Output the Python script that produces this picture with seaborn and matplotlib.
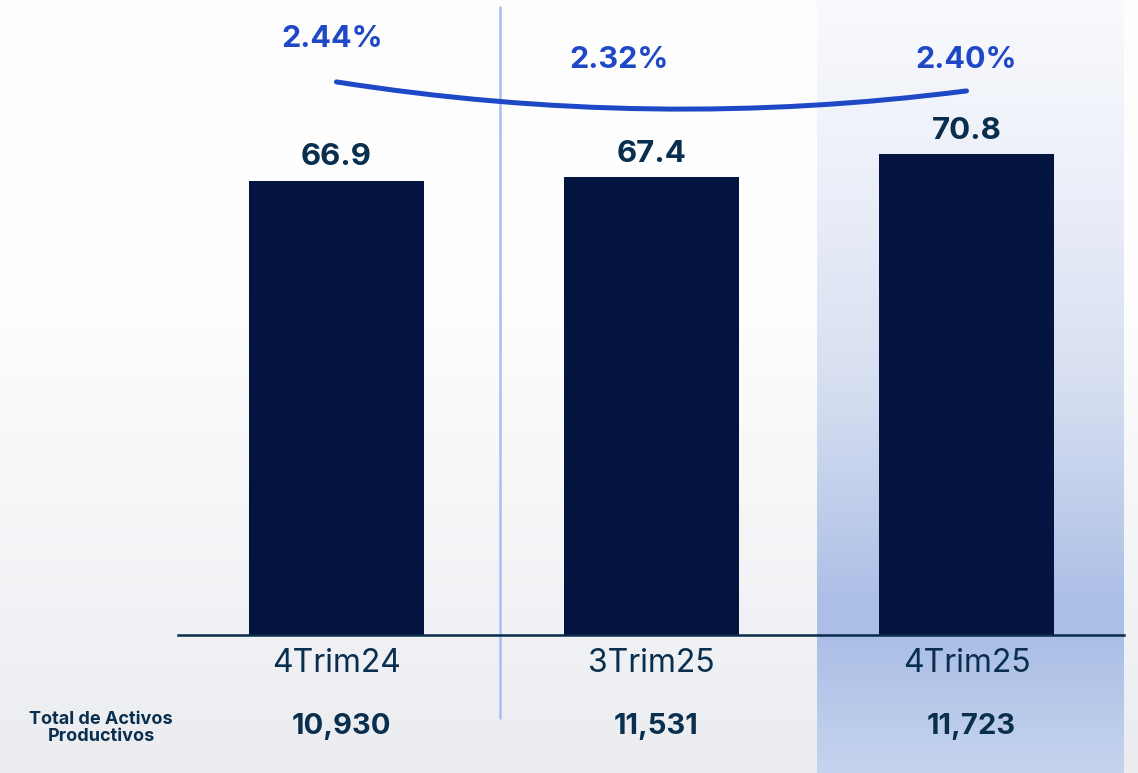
import matplotlib
matplotlib.use('Agg')
import matplotlib.pyplot as plt
import seaborn as sns
import numpy as np
import pandas as pd
from matplotlib.colors import LinearSegmentedColormap
from matplotlib.path import Path
from matplotlib.patches import PathPatch

# datos
trimestres = ['4Trim24', '3Trim25', '4Trim25']
valores = [66.9, 67.4, 70.8]
porcentajes = [2.44, 2.32, 2.40]
activos = [10930, 11531, 11723]
etiqueta_fila = 'Total de Activos\nProductivos'

sns.set_style('white')
plt.rcParams['font.family'] = ['Inter', 'DejaVu Sans']

azul_osc = '#041440'
txt = '#0a2f4e'
azul_linea = '#1f48c6'

df = pd.DataFrame({'Trimestre': trimestres, 'Valor': valores})

W_PX, H_PX = 1138, 773
fig = plt.figure(figsize=(W_PX / 100, H_PX / 100), dpi=100)

# ejes principales
L, B = 178 / W_PX, 1 - 635 / H_PX
W, H = 946 / W_PX, 635 / H_PX
xa, xb = -0.503, 2.5
ymax = 635 / 6.79

# fondo con degradado
bg = fig.add_axes([0, 0, 1, 1], zorder=0)
bg.axis('off')
esc = (xb - xa) / W
bx0, bx1 = xa - L * esc, xa + (1 - L) * esc
grad = np.linspace(0, 1, 256).reshape(-1, 1)
cm_bg = LinearSegmentedColormap.from_list('bg', [(0, '#fdfdfd'), (0.35, '#ffffff'), (1, '#eaecf0')])
bg.imshow(grad, cmap=cm_bg, aspect='auto', extent=[bx0, bx1, H_PX, 0], origin='upper')
cm_hl = LinearSegmentedColormap.from_list('hl', [(0, '#f9fafd'), (0.26, '#eaeef8'), (0.52, '#d4ddf0'),
                                                 (0.68, '#bccbea'), (0.78, '#abbee6'), (0.83, '#abbfe6'),
                                                 (1, '#c5d4ee')])
bg.imshow(grad, cmap=cm_hl, aspect='auto', extent=[1.525, 2.497, H_PX, 0], origin='upper')
bg.set_xlim(bx0, bx1)
bg.set_ylim(H_PX, 0)
bg.plot([0.52, 0.52], [7, 718], color='#a9bff2', lw=1.8)

# barras
ax = fig.add_axes([L, B, W, H], zorder=1)
ax.patch.set_visible(False)
sns.barplot(data=df, x='Trimestre', y='Valor', color=azul_osc, saturation=1, width=0.556,
            linewidth=0, ax=ax)
ax.set_xlim(xa, xb)
ax.set_ylim(0, ymax)
for s in ['top', 'right', 'left']:
    ax.spines[s].set_visible(False)
ax.spines['bottom'].set_color('#0b2b4b')
ax.spines['bottom'].set_linewidth(1.8)
ax.set_yticks([])
ax.set_xlabel('')
ax.set_ylabel('')
ax.tick_params(axis='x', length=0, pad=9, labelsize=23, labelcolor=txt)
for i, v in enumerate(valores):
    ax.annotate(f'{v:.1f}', (i, v), xytext=(0, 17), textcoords='offset points',
                ha='center', va='center', fontsize=22.5, fontweight='bold', color=txt)

# linea de porcentaje
ax2 = ax.twinx()
ax2.set_ylim(-0.018, 2.804)
ax2.set_xlim(xa, xb)
ax2.axis('off')
ctrl = 2 * porcentajes[1] - (porcentajes[0] + porcentajes[2]) / 2
camino = Path([(0, porcentajes[0]), (1, ctrl), (2, porcentajes[2])],
              [Path.MOVETO, Path.CURVE3, Path.CURVE3])
ax2.add_patch(PathPatch(camino, fill=False, edgecolor=azul_linea, lw=3.6, capstyle='round'))
offs = [(-3, 31), (-23, 35), (0, 22)]
for i, (p, o) in enumerate(zip(porcentajes, offs)):
    ax2.annotate(f'{p:.2f}%', (i, p), xytext=o, textcoords='offset points',
                 ha='center', va='center', fontsize=22, fontweight='bold', color=azul_linea)

# fila de totales
for i, t in enumerate(activos):
    bg.text(i + 0.015, 727, f'{t:,}', ha='center', va='center', fontsize=21,
            fontweight='bold', color=txt)
fig.text(101 / W_PX, 1 - 728 / H_PX, etiqueta_fila, ha='center', va='center',
         fontsize=13, fontweight='bold', color=txt, linespacing=0.95)

fig.savefig('out.png', dpi=100)
